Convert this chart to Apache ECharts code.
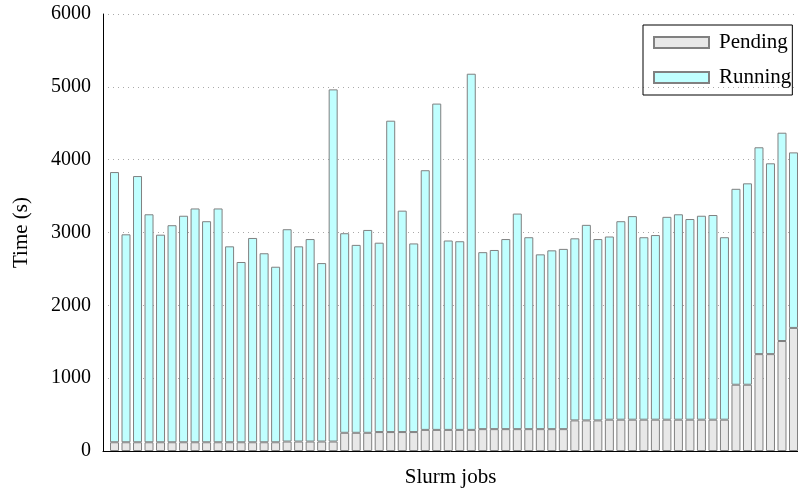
<!DOCTYPE html>
<html>
<head>
<meta charset="utf-8">
<script src="https://cdn.jsdelivr.net/npm/echarts@6/dist/echarts.min.js"></script>
<style>
  html, body { margin: 0; padding: 0; background: #fff; }
  #chart { width: 798px; height: 491px; }
</style>
</head>
<body>
<div id="chart"></div>
<script>
var seriesNames = ['Pending', 'Running'];
var yTicks = [0, 1000, 2000, 3000, 4000, 5000, 6000];

// time spent waiting in queue, one value per slurm job
var pending = [
  120, 120, 120, 120, 120, 120, 120, 120, 120, 120,
  120, 120, 120, 120, 120, 130, 130, 130, 130, 130,
  250, 250, 250, 260, 260, 260, 260, 290, 290, 290,
  290, 290, 300, 300, 300, 300, 300, 300, 300, 300,
  420, 420, 420, 430, 430, 430, 430, 430, 430, 430,
  430, 430, 430, 430, 910, 910, 1330, 1330, 1510, 1690
];

// time spent running, one value per slurm job
var running = [
  3710, 2855, 3655, 3130, 2850, 2980, 3110, 3210, 3035, 3210,
  2690, 2475, 2805, 2595, 2410, 2915, 2680, 2780, 2450, 4835,
  2740, 2580, 2785, 2600, 4275, 3040, 2590, 3565, 4480, 2600,
  2590, 4890, 2430, 2460, 2610, 2960, 2635, 2400, 2455, 2475,
  2500, 2685, 2490, 2515, 2725, 2795, 2505, 2535, 2785, 2820,
  2755, 2800, 2810, 2505, 2690, 2765, 2840, 2620, 2860, 2410
];

var jobs = pending.map(function (_, i) {
  return 'job ' + (i + 1);
});

var font = 'Liberation Serif';
var yMin = yTicks[0];
var yMax = yTicks[yTicks.length - 1];

var chart = echarts.init(document.getElementById('chart'), null, { renderer: 'canvas' });
chart.setOption({
  animation: false,
  // grid 0 carries the frame (axes, labels, dotted lines),
  // grid 1 holds the bars, shifted by half a slot like the original plot
  grid: [
    { left: 103, right: 0, top: 14, bottom: 40, outerBoundsMode: 'none', containLabel: false },
    { left: 108.75, right: -1.25, top: 14, bottom: 40, outerBoundsMode: 'none', containLabel: false }
  ],
  legend: {
    orient: 'vertical',
    left: 643,
    top: 25,
    padding: [7, 1, 7, 10],
    itemWidth: 55,
    itemHeight: 11,
    itemGap: 14,
    borderColor: '#000',
    borderWidth: 1,
    icon: 'rect',
    textStyle: {
      fontFamily: font,
      fontSize: 21,
      color: '#000',
      padding: [0, 0, 0, 5]
    },
    data: seriesNames
  },
  xAxis: [
    {
      gridIndex: 0,
      type: 'value',
      min: 0,
      max: 1,
      name: 'Slurm jobs',
      nameLocation: 'middle',
      nameGap: 16,
      nameTextStyle: { fontFamily: font, fontSize: 21, color: '#000' },
      axisLine: { show: true, onZero: false, lineStyle: { color: '#000', width: 1 } },
      axisTick: { show: false },
      axisLabel: { show: false },
      splitLine: { show: false }
    },
    {
      gridIndex: 1,
      type: 'category',
      data: jobs,
      boundaryGap: true,
      show: false
    }
  ],
  yAxis: [
    {
      gridIndex: 0,
      type: 'value',
      min: yMin,
      max: yMax,
      interval: 1000,
      name: 'Time (s)',
      nameLocation: 'middle',
      nameGap: 71,
      nameTextStyle: { fontFamily: font, fontSize: 21, color: '#000' },
      axisLine: { show: true, onZero: false, lineStyle: { color: '#000', width: 1 } },
      axisTick: { show: false },
      axisLabel: {
        fontFamily: font,
        fontSize: 20,
        color: '#000',
        margin: 12,
        formatter: function (v) {
          return String(v);
        }
      },
      splitLine: {
        show: true,
        lineStyle: { color: '#aaa', type: [1, 4], width: 1 }
      }
    },
    {
      gridIndex: 1,
      type: 'value',
      min: yMin,
      max: yMax,
      show: false,
      splitLine: { show: false }
    }
  ],
  series: [
    {
      name: seriesNames[0],
      type: 'bar',
      xAxisIndex: 1,
      yAxisIndex: 1,
      stack: 'time',
      barWidth: 9,
      data: pending,
      itemStyle: {
        color: '#e8e8e8',
        borderColor: '#808080',
        borderWidth: 1
      }
    },
    {
      name: seriesNames[1],
      type: 'bar',
      xAxisIndex: 1,
      yAxisIndex: 1,
      stack: 'time',
      barWidth: 9,
      data: running,
      itemStyle: {
        color: '#c0ffff',
        borderColor: '#808080',
        borderWidth: 1
      }
    }
  ]
});
</script>
</body>
</html>
